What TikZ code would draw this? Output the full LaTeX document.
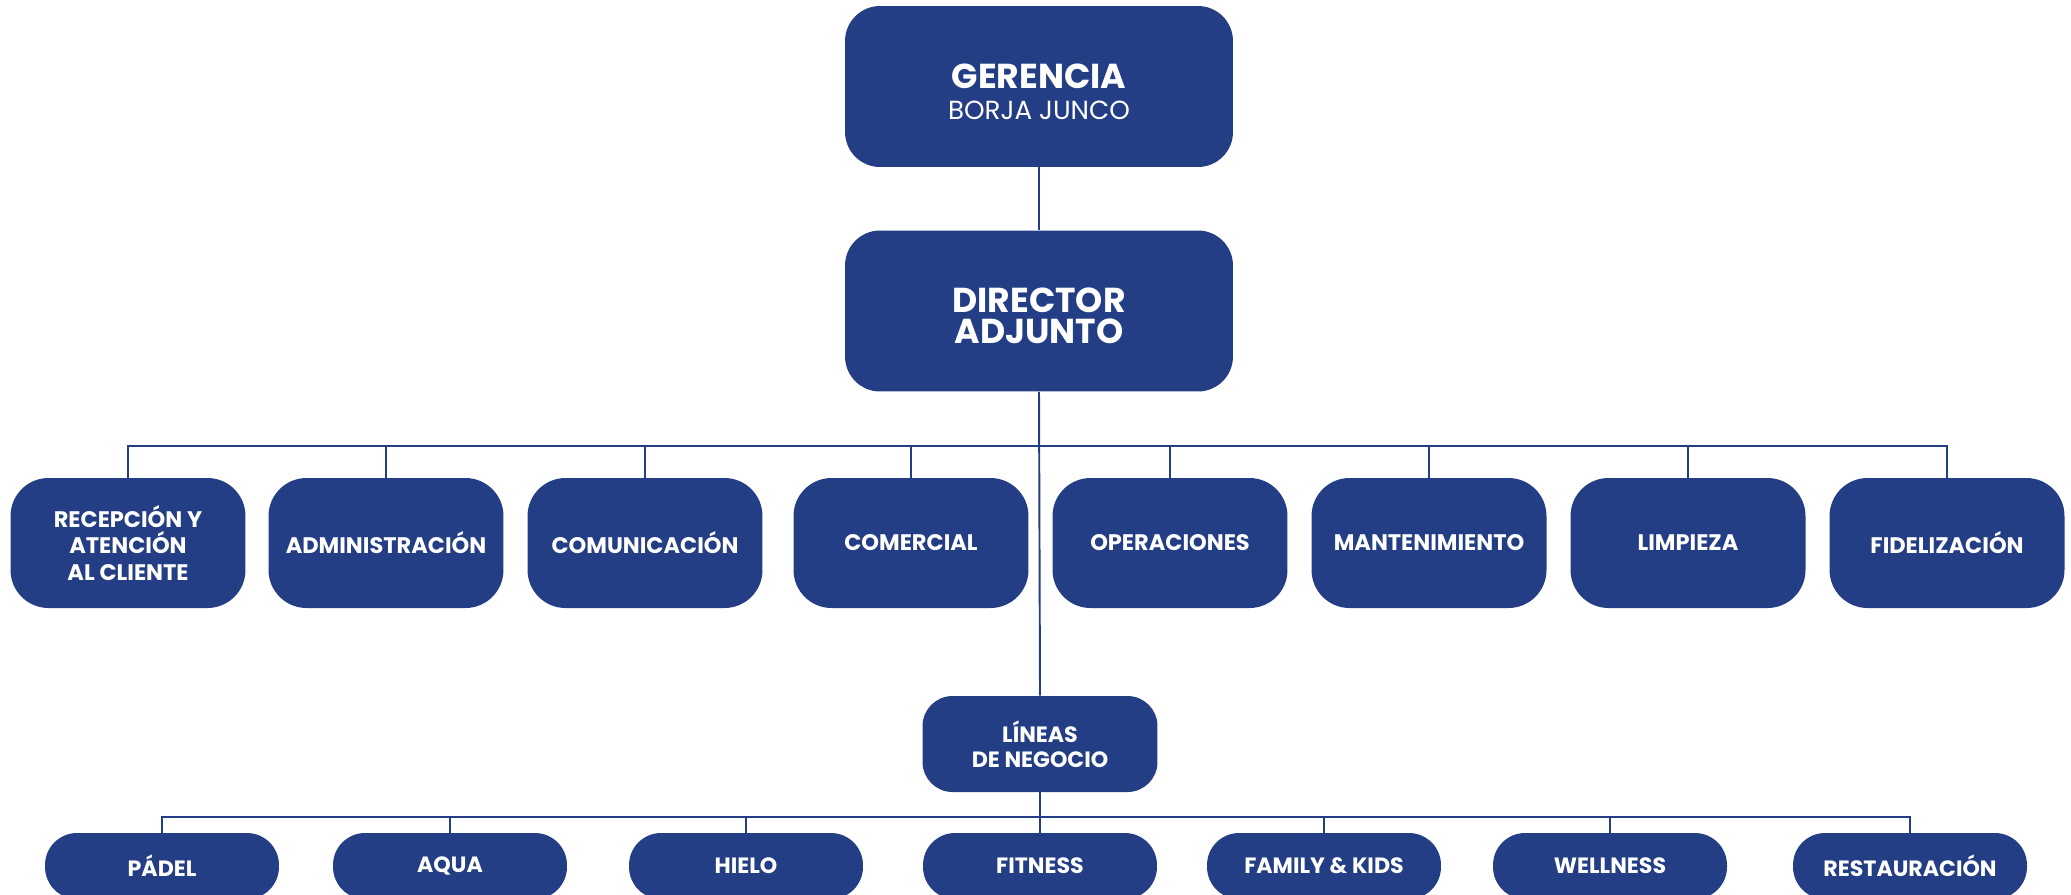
\documentclass[tikz,border=0pt]{standalone}
\usepackage{fontspec}
\setmainfont{Poppins}
\usepackage{tikz}
\usetikzlibrary{positioning}
\definecolor{navy}{RGB}{36,62,133}
\tikzset{
  box/.style={fill=navy, text=white, align=center, font=\bfseries, inner sep=0pt},
  bigbox/.style={box, minimum width=7.76cm, minimum height=3.22cm, rounded corners=0.7cm},
  bigtext/.style={text=white, align=center, inner sep=0pt, yshift=-0.1cm, font=\fontsize{19.7}{17.8}\selectfont\bfseries},
  areabox/.style={box, minimum width=4.7cm, minimum height=2.6cm, rounded corners=0.76cm, font=\fontsize{12.8}{15.3}\selectfont\bfseries},
  linebox/.style={box, minimum width=4.7cm, minimum height=1.92cm, rounded corners=0.6cm, font=\fontsize{12.6}{14.4}\selectfont\bfseries},
  pillbox/.style={box, minimum width=4.68cm, minimum height=1.32cm, rounded corners=0.64cm, font=\fontsize{12.6}{14.4}\selectfont\bfseries},
  link/.style={draw=navy, line width=1.1pt}
}
\begin{document}
\begin{tikzpicture}[x=0.02cm, y=-0.02cm]
  \useasboundingbox (0,0) rectangle (2071,894);
  \clip (0,0) rectangle (2071,894);
%% top of the chart
  \node[bigbox, label={[bigtext]center:GERENCIA\\{\fontsize{14.9}{18}\selectfont\mdseries BORJA JUNCO}}] (ger) at (1039,86.5) {};
  \node[bigbox, label={[bigtext]center:DIRECTOR\\ADJUNTO}] (dir) at (1039,311) {};
  \coordinate (bar1) at (1040,446);
%% areas
  \node[areabox] (rec) at (128,543) {RECEPCIÓN Y\\ATENCIÓN\\AL CLIENTE};
  \node[areabox] (adm) at (386,543) {ADMINISTRACIÓN};
  \node[areabox] (com) at (645,543) {COMUNICACIÓN};
  \node[areabox] (cml) at (911,543) {COMERCIAL};
  \node[areabox] (ope) at (1170,543) {OPERACIONES};
  \node[areabox] (man) at (1429,543) {MANTENIMIENTO};
  \node[areabox] (lim) at (1688,543) {LIMPIEZA};
  \node[areabox] (fid) at (1947,543) {FIDELIZACIÓN};
%% business lines
  \node[linebox] (lin) at (1040,744) {LÍNEAS\\DE NEGOCIO};
  \coordinate (bar2) at (1040,817);
  \node[pillbox] (pad) at (162,866) {PÁDEL};
  \node[pillbox] (aqu) at (450,866) {AQUA};
  \node[pillbox] (hie) at (746,866) {HIELO};
  \node[pillbox] (fit) at (1040,866) {FITNESS};
  \node[pillbox] (fam) at (1324,866) {FAMILY \& KIDS};
  \node[pillbox] (wel) at (1610,866) {WELLNESS};
  \node[pillbox] (res) at (1910,866) {RESTAURACIÓN};
%% connectors
  \draw[link] (ger.south) to (dir.north);
  \draw[link] (dir.south) to (lin.north);
  \draw[link] (rec.north) |- (bar1) -| (fid.north);
  \foreach \n in {adm,com,cml,ope,man,lim}
    \draw[link] (\n.north) to (\n.north |- bar1);
  \draw[link] (lin.south) to (fit.north);
  \draw[link] (pad.north) |- (bar2) -| (res.north);
  \foreach \n in {aqu,hie,fam,wel}
    \draw[link] (\n.north) to (\n.north |- bar2);
\end{tikzpicture}
\end{document}
